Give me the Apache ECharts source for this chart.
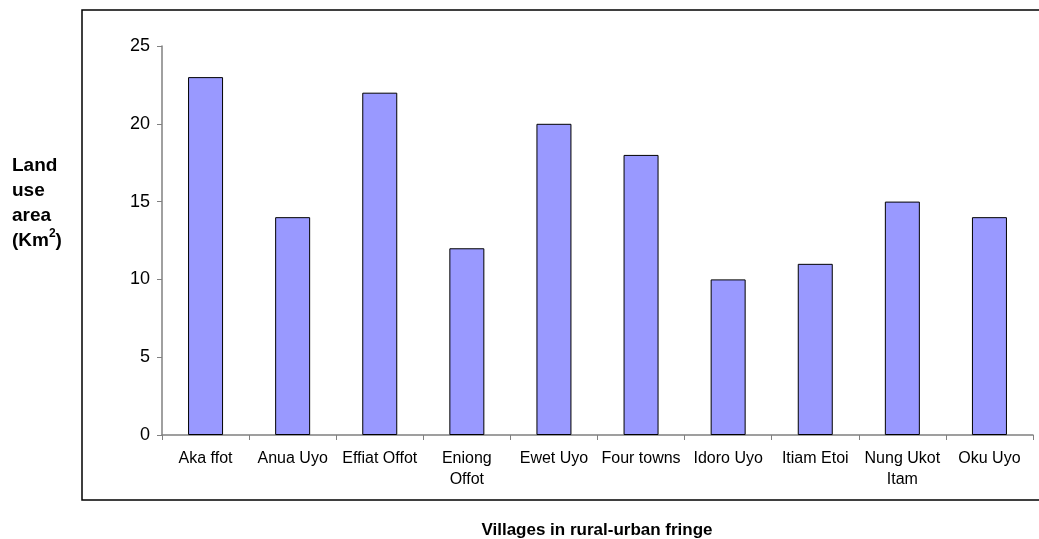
<!DOCTYPE html>
<html>
<head>
<meta charset="utf-8">
<script src="https://cdn.jsdelivr.net/npm/echarts@6/dist/echarts.min.js"></script>
<style>html,body{margin:0;padding:0;background:#fff;}#c{width:1039px;height:539px;}</style>
</head>
<body>
<div id="c"></div>
<script>
const categories = ['Aka ffot', 'Anua Uyo', 'Effiat Offot', 'Eniong\nOffot', 'Ewet Uyo', 'Four towns', 'Idoro Uyo', 'Itiam Etoi', 'Nung Ukot\nItam', 'Oku Uyo'];
const areaValues = [23, 14, 22, 12, 20, 18, 10, 11, 15, 14];
const yTicks = [0, 5, 10, 15, 20, 25];
const xTitle = 'Villages in rural-urban fringe';

const chart = echarts.init(document.getElementById('c'), null, {renderer: 'canvas'});
chart.setOption({
  animation: false,
  backgroundColor: '#fff',
  grid: {left: 162, right: 6, top: 46, bottom: 104},
  xAxis: {
    type: 'category',
    data: categories,
    axisLine: {lineStyle: {color: '#808080', width: 1.5}},
    axisTick: {show: true, length: 5, alignWithLabel: false, lineStyle: {color: '#808080'}},
    axisLabel: {color: '#000', fontFamily: 'Liberation Sans, Arial', fontSize: 16, margin: 13, lineHeight: 21, interval: 0}
  },
  yAxis: {
    type: 'value',
    min: yTicks[0], max: yTicks[yTicks.length - 1], interval: 5,
    axisLine: {show: true, lineStyle: {color: '#808080', width: 1.5}},
    axisTick: {show: true, length: 5, lineStyle: {color: '#808080'}},
    splitLine: {show: false},
    axisLabel: {color: '#000', fontFamily: 'Liberation Sans, Arial', fontSize: 18, margin: 12}
  },
  series: [{
    type: 'bar',
    data: areaValues,
    barWidth: 35,
    itemStyle: {color: '#9999ff', borderColor: '#000', borderWidth: 1}
  }],
  graphic: [
    {type: 'rect', shape: {x: 82, y: 10, width: 1000, height: 490}, style: {fill: 'none', stroke: '#000', lineWidth: 1.5}, z: -1},
    {type: 'text', left: 12, top: 153, style: {
      text: '{k|Land}\n{k|use}\n{k|area}\n{k|(Km}{s|2}{k|)}',
      rich: {k: {fontSize: 19, fontWeight: 'bold', fontFamily: 'Liberation Sans, Arial', fill: '#000', lineHeight: 25},
             s: {fontSize: 12, fontWeight: 'bold', fontFamily: 'Liberation Sans, Arial', fill: '#000', verticalAlign: 'top', lineHeight: 25, padding: [0,0,9,0]}},
      fontSize: 19, fontWeight: 'bold', fontFamily: 'Liberation Sans, Arial', fill: '#000', lineHeight: 25
    }},
    {type: 'text', x: 597, y: 530, style: {
      text: xTitle, fontSize: 17, fontWeight: 'bold', fontFamily: 'Liberation Sans, Arial', fill: '#000',
      align: 'center', verticalAlign: 'middle'
    }}
  ]
});
</script>
</body>
</html>
